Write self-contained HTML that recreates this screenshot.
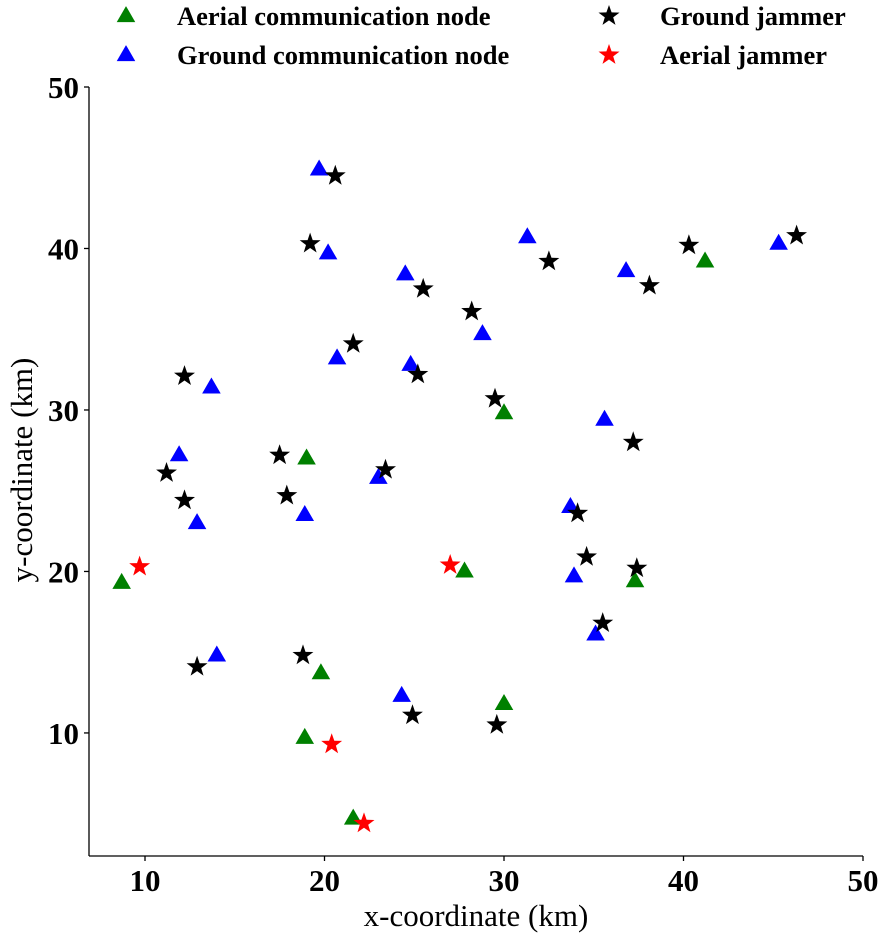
<!DOCTYPE html>
<html><head><meta charset="utf-8"><style>
body{margin:0;background:#fff}
svg{display:block;font-family:"Liberation Serif",serif}
</style></head><body>
<svg id="chart" width="884" height="940" xmlns="http://www.w3.org/2000/svg">
<g id="legend"></g>
<g id="axes"></g>
<g id="marks"></g>
</svg>
<script>
const xTicks=[10,20,30,40,50];
const yTicks=[10,20,30,40,50];
const aerialNodeX=[8.7,19.0,30.0,27.8,37.3,41.2,19.8,18.9,21.6,30.0];
const aerialNodeY=[19.3,27.0,29.8,20.0,19.4,39.2,13.7,9.7,4.7,11.8];
const groundNodeX=[19.7,20.2,20.7,13.7,11.9,12.9,18.9,24.5,24.8,28.8,31.3,23.0,36.8,35.6,45.3,33.7,33.9,35.1,14.0,24.3];
const groundNodeY=[44.9,39.7,33.2,31.4,27.2,23.0,23.5,38.4,32.8,34.7,40.7,25.8,38.6,29.4,40.3,24.0,19.7,16.1,14.8,12.3];
const groundJamX=[20.6,19.2,25.5,28.2,32.5,40.3,38.1,46.3,21.6,25.2,12.2,29.5,37.2,17.5,23.4,11.2,12.2,17.9,34.1,34.6,37.4,35.5,12.9,18.8,24.9,29.6];
const groundJamY=[44.5,40.3,37.5,36.1,39.2,40.2,37.7,40.8,34.1,32.2,32.1,30.7,28.0,27.2,26.3,26.1,24.4,24.7,23.6,20.9,20.2,16.8,14.1,14.8,11.1,10.5];
const aerialJamX=[9.7,27.0,20.4,22.2];
const aerialJamY=[20.3,20.4,9.3,4.4];

const NS="http://www.w3.org/2000/svg";
const L=89,R=863,T=87,B=856,XMIN=6.88,XMAX=50,YMIN=2.38,YMAX=50;
const sx=v=>L+(v-XMIN)/(XMAX-XMIN)*(R-L);
const sy=v=>B-(v-YMIN)/(YMAX-YMIN)*(B-T);
function mk(tag,attrs,parent,text){const e=document.createElementNS(NS,tag);for(const k in attrs)e.setAttribute(k,attrs[k]);if(text!==undefined)e.textContent=text;parent.appendChild(e);return e;}
function tri(cx,cy,s){return `${cx},${cy-s*0.62} ${cx-s*0.58},${cy+s*0.38} ${cx+s*0.58},${cy+s*0.38}`;}
function star(cx,cy,r){let p=[];for(let i=0;i<10;i++){const rr=i%2?r*0.4:r;const a=-Math.PI/2+i*Math.PI/5;p.push((cx+rr*Math.cos(a)).toFixed(1)+","+(cy+rr*Math.sin(a)).toFixed(1));}return p.join(" ");}

const ax=document.getElementById('axes');
let e=mk('line',{x1:L,y1:B,x2:R,y2:B,stroke:'#000','stroke-width':1.3},ax);

e=mk('line',{x1:L,y1:T,x2:L,y2:B,stroke:'#000','stroke-width':1.3},ax);

xTicks.forEach(t=>{
 const x=sx(t);
 let l=mk('line',{x1:x,y1:B,x2:x,y2:B+5,stroke:'#000','stroke-width':1.3},ax);
 
 let tx=mk('text',{x:x,y:B+35,'text-anchor':'middle','font-size':31,'font-weight':'bold'},ax,t);
 
});
yTicks.forEach(t=>{
 const y=sy(t);
 let l=mk('line',{x1:L-5,y1:y,x2:L,y2:y,stroke:'#000','stroke-width':1.3},ax);
 
 let tx=mk('text',{x:L-10,y:y+11,'text-anchor':'end','font-size':31,'font-weight':'bold'},ax,t);
 
});
e=mk('text',{x:476,y:926,'text-anchor':'middle','font-size':31},ax,'x-coordinate (km)');

e=mk('text',{x:0,y:0,'text-anchor':'middle','font-size':31,transform:'translate(32,470) rotate(-90)'},ax,'y-coordinate (km)');


const mg=document.getElementById('marks');
aerialNodeX.forEach((v,i)=>{const p=mk('polygon',{points:tri(sx(v),sy(aerialNodeY[i]),16),fill:'green'},mg);
 });
groundNodeX.forEach((v,i)=>{const p=mk('polygon',{points:tri(sx(v),sy(groundNodeY[i]),16),fill:'blue'},mg);
 });
groundJamX.forEach((v,i)=>{const p=mk('polygon',{points:star(sx(v),sy(groundJamY[i]),11),fill:'#000'},mg);
 });
aerialJamX.forEach((v,i)=>{const p=mk('polygon',{points:star(sx(v),sy(aerialJamY[i]),11),fill:'red'},mg);
 });

const lg=document.getElementById('legend');
const entries=[[126,16,'tri','green','Aerial communication node'],[126,55,'tri','blue','Ground communication node'],[609,16,'star','#000','Ground jammer'],[609,55,'star','red','Aerial jammer']];
entries.forEach(en=>{
 const g=mk('g',{},lg);
 
 mk('polygon',{points:en[2]==='tri'?tri(en[0],en[1],16):star(en[0],en[1],11),fill:en[3]},g);
 mk('text',{x:en[0]+51,y:en[1]+9,'font-size':26.5,'font-weight':'bold'},g,en[4]);
});
</script>
</body></html>
